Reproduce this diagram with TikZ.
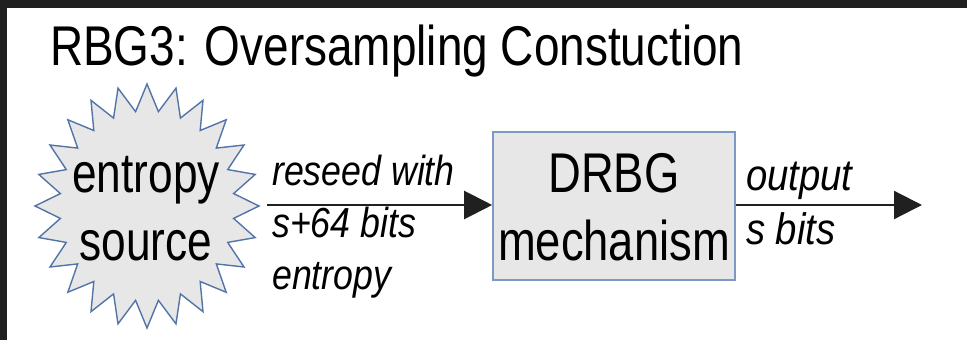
\documentclass[tikz,border=0pt]{standalone}
\usepackage{fontspec}
\setmainfont{Liberation Sans}
\usepackage{graphicx}
\usetikzlibrary{arrows.meta,shapes.geometric}
\newcommand\hsq[2]{\scalebox{#1}[1]{#2}}
\definecolor{starblue}{HTML}{5274A8}
\definecolor{boxblue}{HTML}{7C99C6}
\definecolor{shapefill}{HTML}{E7E7E7}
\definecolor{framedark}{HTML}{202020}
\definecolor{linegray}{HTML}{202020}
\tikzset{
  titletext/.style={anchor=base west, inner sep=0pt, font=\fontsize{56}{68}\selectfont},
  bigtext/.style={anchor=base, inner sep=0pt, font=\fontsize{56}{68}\selectfont},
  labeltext/.style={anchor=base west, inner sep=0pt, font=\itshape\fontsize{42}{52}\selectfont},
  outtext/.style={anchor=base west, inner sep=0pt, font=\itshape\fontsize{44}{54}\selectfont},
  starshape/.style={draw=starblue, fill=shapefill, line width=1.4pt, line join=miter},
  boxshape/.style={draw=boxblue, fill=shapefill, line width=1.6pt, rectangle, minimum width=242pt, minimum height=148pt, inner sep=0pt},
  flow/.style={draw=linegray, line width=2.2pt, -{Triangle[length=28pt,width=28pt]}}
}
\begin{document}
\begin{tikzpicture}[x=1pt,y=-1pt]
\useasboundingbox (0,0) rectangle (967,340);
\fill[white] (-10,-10) rectangle (980,350);
% dark frame edges
\fill[framedark] (0,0) rectangle (967,8);
\fill[framedark] (0,0) rectangle (7,340);
% title
\node[titletext] (title) at (50,65) {\hsq{0.82}{RBG3: Oversampling Constuction}};
% entropy source starburst
\draw[starshape] plot[samples at={0,...,47}, variable=\k]
  ({147+112*(1-0.22*mod(\k,2))*cos(90+7.5*\k)}, {206+122*(1-0.22*mod(\k,2))*sin(90+7.5*\k)}) -- cycle;
\node[ellipse, minimum width=224pt, minimum height=244pt, inner sep=0pt] (star) at (147,206) {};
\node[bigtext] (src) at (146,192) {\hsq{0.79}{\begin{tabular}[t]{@{}c@{}}entropy\\source\end{tabular}}};
% DRBG box
\node[boxshape] (drbg) at (614,206) {};
\node[bigtext] (drbgtxt) at (614,192) {\hsq{0.81}{\begin{tabular}[t]{@{}c@{}}DRBG\\mechanism\end{tabular}}};
% connectors
\coordinate (srcE) at (267,205);
\coordinate (outE) at (922,205);
\draw[flow] (srcE) -- (drbg.west |- srcE);
\draw[flow] (drbg.east |- outE) -- (outE);
% labels
\node[labeltext] (reseed) at (272,185) {\hsq{0.85}{\begin{tabular}[t]{@{}l@{}}reseed with\\s+64 bits\\entropy\end{tabular}}};
\node[outtext] (outlbl) at (746,190) {\hsq{0.87}{\begin{tabular}[t]{@{}l@{}}output\\s bits\end{tabular}}};
\end{tikzpicture}
\end{document}
